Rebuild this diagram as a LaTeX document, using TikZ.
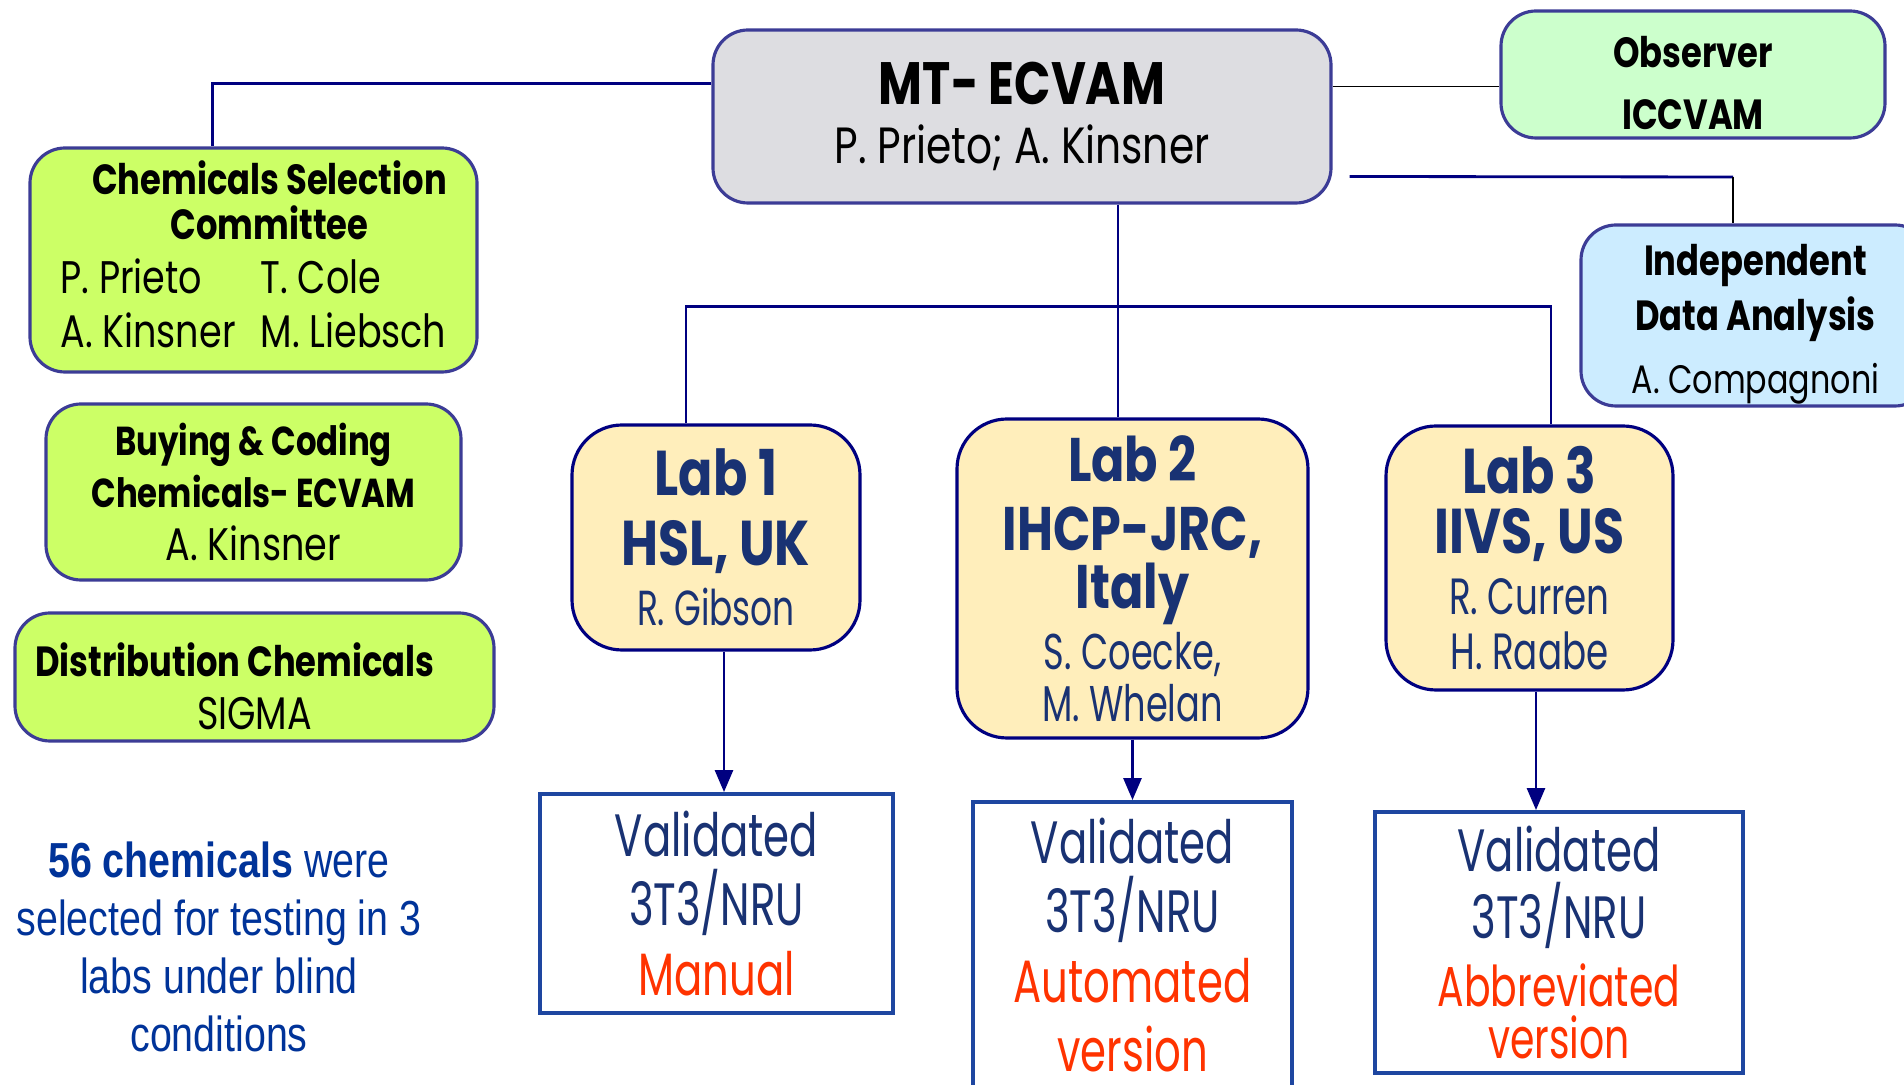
\documentclass[tikz,border=0pt]{standalone}
\usepackage{fontspec}
\setmainfont[FakeStretch=0.8]{Poppins}
\newfontfamily\narrowfont[FakeStretch=0.7]{Poppins}
\newfontfamily\notefont[FakeStretch=0.8]{Liberation Sans}
\usetikzlibrary{shapes, arrows.meta, positioning}

\definecolor{boxline}{RGB}{60,60,150}
\definecolor{mtgray}{RGB}{221,221,225}
\definecolor{lime}{RGB}{204,255,102}
\definecolor{mint}{RGB}{204,255,204}
\definecolor{sky}{RGB}{204,236,255}
\definecolor{cream}{RGB}{255,238,187}
\definecolor{navy}{RGB}{0,0,128}
\definecolor{labtext}{RGB}{25,50,115}
\definecolor{valline}{RGB}{30,70,160}
\definecolor{orangered}{RGB}{255,51,0}
\definecolor{noteblue}{RGB}{0,51,153}

\begin{document}
\begin{tikzpicture}[
    box/.style={
        rectangle, rounded corners=0.35cm,
        draw=boxline, line width=0.9pt,
        align=center, inner sep=0pt
    },
    labbox/.style={
        box, draw=navy, fill=cream,
        rounded corners=0.5cm, text=labtext
    },
    valbox/.style={
        rectangle, draw=valline, line width=1.1pt,
        fill=white, align=center, inner sep=0pt, text=labtext
    },
    link/.style={draw=navy, line width=0.8pt},
    thinlink/.style={draw=black, line width=0.5pt},
    arrow/.style={link, -{Triangle[length=2.2mm,width=1.8mm]}}
]

\path[use as bounding box, fill=white] (0,0) rectangle (19.04,10.85);

% Top level
\node[box, fill=mtgray, minimum width=6.18cm, minimum height=1.73cm] (mt) at (10.22,9.685) {%
{\fontsize{17}{20}\selectfont\bfseries MT- ECVAM}\\[5pt]
{\fontsize{14.5}{16}\selectfont P. Prieto; A. Kinsner}
};

\node[box, fill=mint, minimum width=3.84cm, minimum height=1.27cm,
    font=\fontsize{12}{17.6}\selectfont\bfseries] (obs) at (16.93,10.105) {%
\rule{0pt}{13.7pt}Observer\\
ICCVAM
};

% Left column
\node[box, fill=lime, minimum width=4.47cm, minimum height=2.24cm,
    font=\fontsize{12}{12.8}\selectfont] (csc) at (2.535,8.25) {%
\rule{0pt}{11pt}\hspace*{0.32cm}\textbf{Chemicals Selection}\\
\hspace*{0.32cm}\textbf{Committee}\\[3.5pt]
{\fontsize{13}{15.4}\selectfont
\begin{tabular}{@{}l@{\hspace{0.25cm}}l@{}}
P. Prieto & T. Cole\\
A. Kinsner & M. Liebsch
\end{tabular}}
};

\node[box, fill=lime, minimum width=4.15cm, minimum height=1.76cm,
    font=\fontsize{11.5}{15}\selectfont] (buy) at (2.535,5.93) {%
\textbf{Buying \& Coding}\\
\textbf{Chemicals- ECVAM}\\
{\fontsize{13}{15}\selectfont A. Kinsner}
};

\node[box, fill=lime, minimum width=4.79cm, minimum height=1.28cm,
    font=\fontsize{12}{15}\selectfont] (dist) at (2.545,4.08) {%
\rule{0pt}{14.7pt}\textbf{Distribution Chemicals}\hspace*{0.39cm}\\
{\fontsize{13}{15}\selectfont SIGMA}
};

% Right side
\node[box, fill=sky, minimum width=3.49cm, minimum height=1.81cm,
    font=\fontsize{12}{15.6}\selectfont] (ida) at (17.555,7.695) {%
\rule{0pt}{13.8pt}\textbf{Independent}\\
\textbf{Data Analysis}\\[2.4pt]
{\fontsize{11.3}{15}\selectfont A. Compagnoni}
};

% Labs
\node[labbox, minimum width=2.88cm, minimum height=2.25cm,
    font=\fontsize{18}{20}\selectfont] (lab1) at (7.16,5.475) {%
\textbf{Lab 1}\\
\textbf{HSL, UK}\\[-3pt]
{\narrowfont\fontsize{14}{16}\selectfont R. Gibson}
};

\node[labbox, minimum width=3.51cm, minimum height=3.19cm,
    font=\fontsize{17.5}{19.6}\selectfont] (lab2) at (11.325,5.065) {%
\textbf{Lab 2}\\
\textbf{IHCP-JRC,}\\[-3pt]
\textbf{Italy}\\[-2.3pt]
{\narrowfont\fontsize{14.3}{15}\selectfont S. Coecke,}\\[-4.8pt]
{\narrowfont\fontsize{14.3}{15}\selectfont M. Whelan}
};

\node[labbox, minimum width=2.87cm, minimum height=2.64cm,
    font=\fontsize{18}{19.7}\selectfont] (lab3) at (15.295,5.27) {%
\textbf{Lab 3}\\[-2.4pt]
\textbf{IIVS, US}\\[-2.4pt]
{\narrowfont\fontsize{14.5}{15}\selectfont R. Curren}\\[-4.1pt]
{\narrowfont\fontsize{14.5}{15}\selectfont H. Raabe}
};

% Results
\node[valbox, minimum width=3.53cm, minimum height=2.19cm,
    font=\narrowfont\fontsize{17}{19.7}\selectfont] (val1) at (7.165,1.815) {%
Validated\\
3T3/NRU\\
\textcolor{orangered}{Manual}
};

\node[valbox, minimum width=3.19cm, minimum height=2.86cm,
    font=\narrowfont\fontsize{17}{19.7}\selectfont] (val2) at (11.325,1.40) {%
Validated\\
3T3/NRU\\
\textcolor{orangered}{Automated}\\
\textcolor{orangered}{version}
};

\node[valbox, minimum width=3.68cm, minimum height=2.61cm,
    font=\narrowfont\fontsize{17}{19.3}\selectfont] (val3) at (15.59,1.425) {%
Validated\\
3T3/NRU\\
{\fontsize{16}{16}\selectfont\textcolor{orangered}{Abbreviated}}\\[-4.5pt]
{\fontsize{16}{16}\selectfont\textcolor{orangered}{version}}
};

% Note
\node[align=center, text=noteblue, font=\notefont\fontsize{14}{16.5}\selectfont] (note) at (2.19,1.38) {%
\textbf{56 chemicals} were\\
selected for testing in 3\\
labs under blind\\
conditions
};

% Connectors
\draw[link] ([yshift=3.3mm]mt.west) -| ([xshift=-4.1mm]csc.north);
\draw[thinlink] ([yshift=3mm]mt.east) -- ([yshift=3mm]mt.east -| obs.west);
\coordinate (brk) at (17.33,9.08);
\draw[link] ([xshift=1.7mm,yshift=-6mm]mt.east) -- (brk);
\draw[thinlink] (brk) -- (brk |- ida.north);
\draw[link] ([xshift=9.6mm]mt.south) -- ++(0,-1.02) coordinate (hub);
\draw[link] ([xshift=-3mm]lab1.north) |- (hub) -| ([xshift=2.15mm]lab3.north);
\draw[link] (hub) -- (hub |- lab2.north);
\draw[arrow] ([xshift=0.8mm]lab1.south) -- ([xshift=0.8mm]lab1.south |- val1.north);
\draw[arrow] (lab2.south) -- (lab2.south |- val2.north);
\draw[arrow] ([xshift=0.65mm]lab3.south) -- ([xshift=0.65mm]lab3.south |- val3.north);

\end{tikzpicture}
\end{document}
